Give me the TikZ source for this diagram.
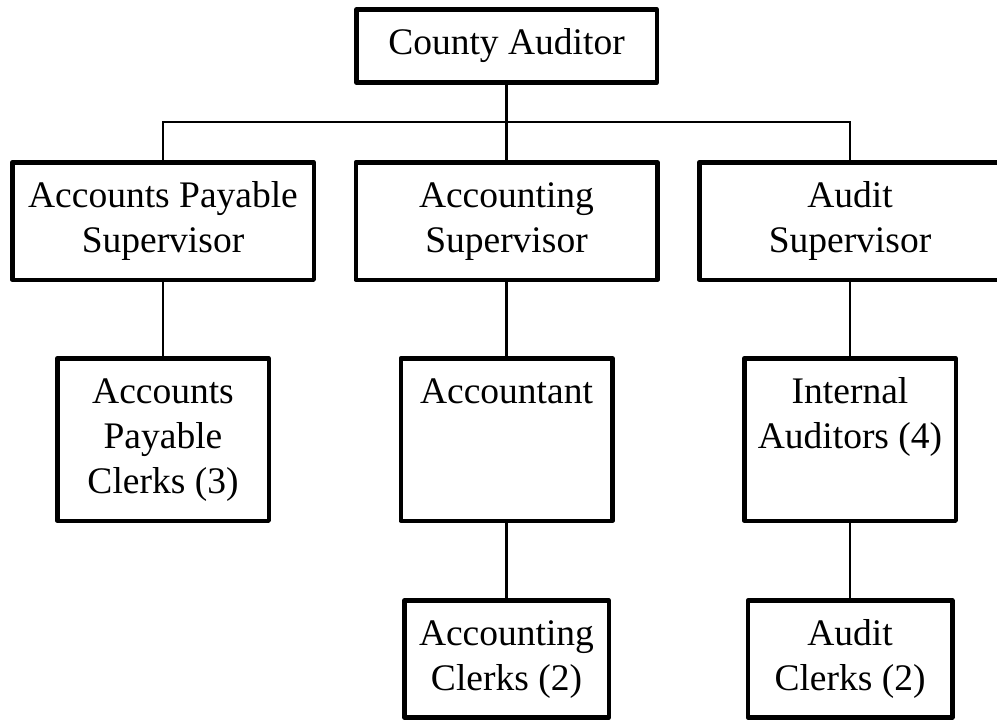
\documentclass[tikz,border=0pt]{standalone}
\usepackage{fontspec}
\setmainfont{Liberation Serif}
\usepackage{tikz}
\begin{document}
\begin{tikzpicture}[x=1pt,y=-1pt]
	\tikzstyle{post}=[draw,line width=4.5pt,line join=round,inner xsep=4pt,inner ysep=0pt,align=center,font=\fontsize{37.5}{45}\selectfont];
	\tikzstyle{link}=[line width=2.5pt];
	\useasboundingbox(0,0)rectangle(997,723);
	\clip(0,0)rectangle(997,723);
	\node[post,text height=45pt,text depth=28pt,minimum width=300.5pt](ca)at(506.5,46){County Auditor};
	\node[post,text height=90pt,text depth=27.5pt,minimum width=301.5pt](aps)at(163,221){Accounts Payable\\Supervisor};
	\node[post,text height=90pt,text depth=27.5pt,minimum width=301.5pt](acs)at(506.5,221){Accounting\\Supervisor};
	\node[post,text height=90pt,text depth=27.5pt,minimum width=301.5pt](aus)at(850,221){Audit\\Supervisor};
	\node[post,text height=135pt,text depth=27.5pt,minimum width=211.5pt](apc)at(163,439.5){Accounts\\Payable\\Clerks (3)};
	\node[post,text height=45pt,text depth=117.5pt,minimum width=211.5pt](acct)at(506.5,439.5){Accountant};
	\node[post,text height=90pt,text depth=72.5pt,minimum width=211.5pt](ia)at(850,439.5){Internal\\Auditors (4)};
	\node[post,text height=90pt,text depth=27pt,minimum width=204.5pt](accl)at(506.5,659){Accounting\\Clerks (2)};
	\node[post,text height=90pt,text depth=27pt,minimum width=204.5pt](aucl)at(850,659){Audit\\Clerks (2)};
	\coordinate(bus)at(506.5,122);
	\draw[link](ca)--(acs);
	\draw[link](aps.north)|-(bus)-|(aus.north);
	\draw[link](aps)--(apc);
	\draw[link](acs)--(acct);
	\draw[link](aus)--(ia);
	\draw[link](acct)--(accl);
	\draw[link](ia)--(aucl);
\end{tikzpicture}
\end{document}
